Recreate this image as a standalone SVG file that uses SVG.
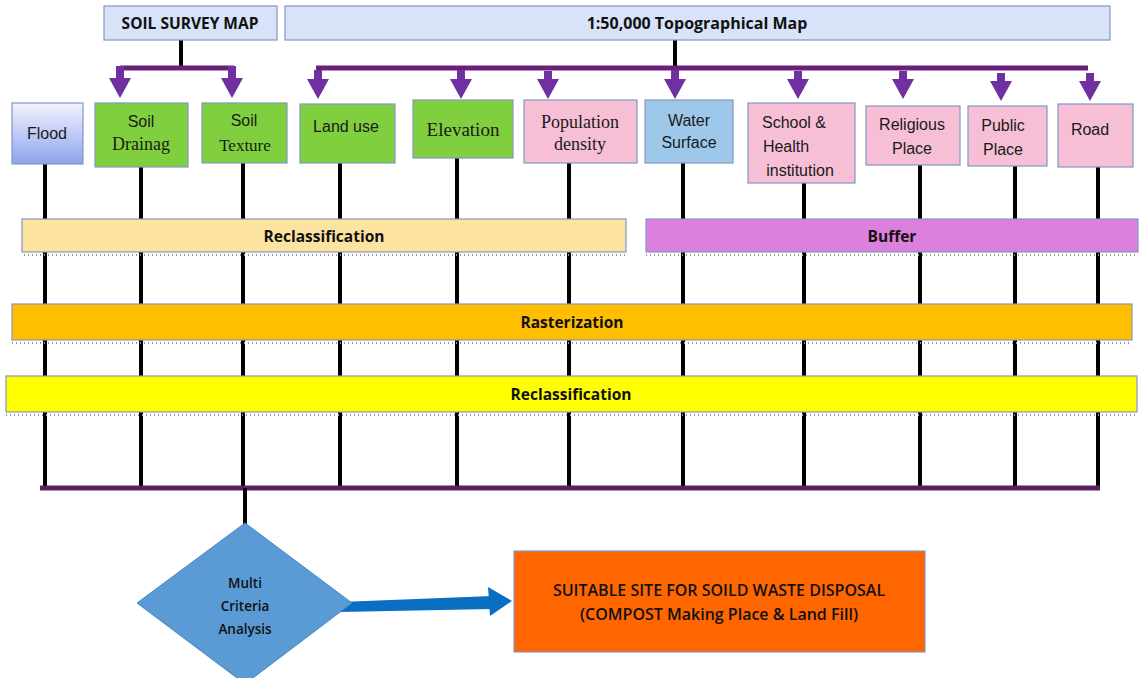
<svg xmlns="http://www.w3.org/2000/svg" width="1147" height="678" viewBox="0 0 1147 678">
<style>
.box{stroke:#8496c4;stroke-width:1.2}
.t{font-family:"Liberation Sans",Arial,sans-serif;font-size:16px;fill:#1a1a1a;text-anchor:middle}
.s{font-family:"Liberation Serif","Times New Roman",serif;font-size:18px;fill:#1a1a1a;text-anchor:middle}
.b{font-family:"Open Sans","Liberation Sans",Arial,sans-serif;font-weight:bold;font-size:15.5px;fill:#111;text-anchor:middle}
.m{font-family:"Open Sans","Liberation Sans",Arial,sans-serif;font-weight:600;fill:#111;text-anchor:middle}
.blk{stroke:#000;stroke-width:4;fill:none}
.pur{stroke:#6a1f7a;stroke-width:5;fill:none}
.dot{stroke:#9a9a9a;stroke-width:2;stroke-dasharray:1 3;fill:none}
</style>
<defs>
<linearGradient id="fl" x1="0" y1="0" x2="0" y2="1"><stop offset="0" stop-color="#f2f4ff"/><stop offset="1" stop-color="#8fa3ee"/></linearGradient>
</defs>
<rect width="1147" height="678" fill="#fff"/>

<g id="connectors">
<line class="blk" x1="181" y1="40" x2="181" y2="68"/>
<line class="blk" x1="675" y1="40" x2="675" y2="68"/>
<path class="pur" d="M120,68 H234"/>
<path class="pur" d="M316,68 H1088"/>
<g fill="#7030a0">
<path d="M116,66 h8 v12 h7 l-11,20 l-11,-20 h7z"/>
<path d="M228,66 h8 v12 h7 l-11,20 l-11,-20 h7z"/>
<path d="M314,70 h8 v9 h7 l-11,20 l-11,-20 h7z"/>
<path d="M457,70 h8 v9 h7 l-11,20 l-11,-20 h7z"/>
<path d="M544,71 h8 v8 h7 l-11,20 l-11,-20 h7z"/>
<path d="M671,70 h8 v9 h7 l-11,20 l-11,-20 h7z"/>
<path d="M794,71 h8 v8 h7 l-11,20 l-11,-20 h7z"/>
<path d="M899,71 h8 v8 h7 l-11,20 l-11,-20 h7z"/>
<path d="M997,73 h8 v8 h7 l-11,20 l-11,-20 h7z"/>
<path d="M1086,73 h8 v8 h7 l-11,20 l-11,-20 h7z"/>
</g>
<line class="blk" x1="45" y1="164" x2="45" y2="488"/>
<line class="blk" x1="141" y1="167" x2="141" y2="488"/>
<line class="blk" x1="243" y1="163" x2="243" y2="488"/>
<line class="blk" x1="340" y1="163" x2="340" y2="488"/>
<line class="blk" x1="457" y1="158" x2="457" y2="488"/>
<line class="blk" x1="569" y1="163" x2="569" y2="488"/>
<line class="blk" x1="683" y1="163" x2="683" y2="488"/>
<line class="blk" x1="804" y1="183" x2="804" y2="488"/>
<line class="blk" x1="920" y1="165" x2="920" y2="488"/>
<line class="blk" x1="1015" y1="166" x2="1015" y2="488"/>
<line class="blk" x1="1098" y1="167" x2="1098" y2="488"/>
<path d="M40,488 H1100" stroke="#5a1f5e" stroke-width="5" fill="none"/>
<line class="blk" x1="245" y1="488" x2="245" y2="525" stroke-width="3"/>
<path d="M340,602 L492,596 L492,609 L340,612z" fill="#0a6fc2"/>
<path d="M488,587 L512,601 L490,616z" fill="#0a6fc2"/>
</g>

<g id="soil-survey-map">
<rect class="box" x="104" y="6" width="173" height="34" fill="#d8e2f8"/>
<text class="b" x="190" y="29" font-size="16.5">SOIL SURVEY MAP</text>
</g>
<g id="topo-map">
<rect class="box" x="285" y="6" width="825" height="34" fill="#d8e2f8"/>
<text class="b" x="697" y="29" style="font-size:16px">1:50,000 Topographical Map</text>
</g>

<g id="flood"><rect class="box" x="12" y="103" width="71" height="61" fill="url(#fl)"/><text class="t" x="47" y="139">Flood</text></g>
<g id="soil-drainage"><rect class="box" x="95" y="103" width="93" height="64" fill="#7fcf3f"/><text class="t" x="141" y="127">Soil</text><text class="s" x="141" y="150">Drainag</text></g>
<g id="soil-texture"><rect class="box" x="202" y="103" width="85" height="60" fill="#7fcf3f"/><text class="t" x="244" y="126">Soil</text><text class="s" x="245" y="151" style="font-size:17px">Texture</text></g>
<g id="land-use"><rect class="box" x="300" y="104" width="95" height="59" fill="#7fcf3f"/><text class="t" x="346" y="132">Land use</text></g>
<g id="elevation"><rect class="box" x="413" y="100" width="100" height="58" fill="#7fcf3f"/><text class="s" x="463" y="136" style="font-size:19px">Elevation</text></g>
<g id="population-density"><rect class="box" x="524" y="100" width="113" height="63" fill="#f6bfd6"/><text class="s" x="580" y="128">Population</text><text class="s" x="580" y="150">density</text></g>
<g id="water-surface"><rect class="box" x="645" y="100" width="88" height="63" fill="#9ec8ea"/><text class="t" x="689" y="126">Water</text><text class="t" x="689" y="148">Surface</text></g>
<g id="school-health"><rect class="box" x="748" y="103" width="107" height="80" fill="#f6bfd6"/><text class="t" x="794" y="128">School &amp;</text><text class="t" x="786" y="152">Health</text><text class="t" x="800" y="176">institution</text></g>
<g id="religious-place"><rect class="box" x="866" y="106" width="94" height="59" fill="#f6bfd6"/><text class="t" x="912" y="130">Religious</text><text class="t" x="912" y="154">Place</text></g>
<g id="public-place"><rect class="box" x="968" y="106" width="79" height="60" fill="#f6bfd6"/><text class="t" x="1003" y="131">Public</text><text class="t" x="1003" y="155">Place</text></g>
<g id="road"><rect class="box" x="1058" y="104" width="75" height="63" fill="#f6bfd6"/><text class="t" x="1090" y="135">Road</text></g>

<g id="reclassification-1"><rect class="box" x="22" y="219" width="604" height="33" fill="#fde3a0"/><text class="b" x="324" y="242">Reclassification</text><path class="dot" d="M24,255 H626"/></g>
<g id="buffer"><rect class="box" x="646" y="219" width="492" height="33" fill="#dd80dd"/><text class="b" x="892" y="242">Buffer</text><path class="dot" d="M646,255 H1138"/></g>
<g id="rasterization"><rect class="box" x="12" y="304" width="1120" height="36" fill="#ffbf00"/><text class="b" x="572" y="328">Rasterization</text><path class="dot" d="M12,343 H1132"/></g>
<g id="reclassification-2"><rect class="box" x="6" y="376" width="1131" height="36" fill="#ffff00"/><text class="b" x="571" y="400">Reclassification</text><path class="dot" d="M6,415 H1137"/></g>

<g id="mca">
<path d="M245,523 L352,603 L245,684 L137,603z" fill="#5b9bd5" stroke="#4a86c0" stroke-width="1"/>
<text class="m" x="245" y="588" style="font-size:13.5px">Multi</text>
<text class="m" x="245" y="611" style="font-size:13.5px">Criteria</text>
<text class="m" x="245" y="634" style="font-size:13.5px">Analysis</text>
</g>
<g id="suitable-site">
<rect class="box" x="514" y="551" width="411" height="101" fill="#ff6600"/>
<text class="m" x="719" y="596" style="font-size:16px">SUITABLE SITE FOR SOILD WASTE DISPOSAL</text>
<text class="m" x="719" y="620" style="font-size:16px">(COMPOST Making Place &amp; Land Fill)</text>
</g>
</svg>
